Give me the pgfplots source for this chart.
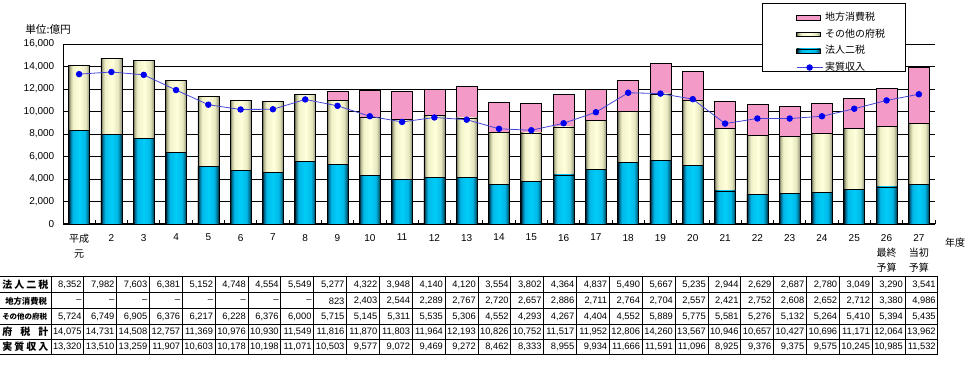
\documentclass[border=0pt]{standalone}
\usepackage{pgfplots}
\pgfplotsset{compat=1.18}
\usepackage{pgfplotstable}
\usepackage{fontspec}
\setmainfont{Liberation Sans}
\newfontfamily\jp{Noto Sans CJK JP}
\definecolor{cyA}{HTML}{000A14}
\definecolor{cyB}{HTML}{006A90}
\definecolor{cyC}{HTML}{00B8E8}
\definecolor{cyD}{HTML}{00CCF8}
\definecolor{cyE}{HTML}{007898}
\definecolor{cyF}{HTML}{002C40}
\definecolor{crA}{HTML}{66664C}
\definecolor{crB}{HTML}{BEBE9A}
\definecolor{crC}{HTML}{F2F2CA}
\definecolor{crD}{HTML}{FFFFDC}
\definecolor{crE}{HTML}{E6E6BE}
\definecolor{crF}{HTML}{909078}
\definecolor{pinkbar}{HTML}{F49AC9}
\definecolor{lineblue}{HTML}{4646D6}
\definecolor{markblue}{HTML}{0000F0}
\pgfdeclarehorizontalshading{cyanbar}{100bp}{color(0bp)=(cyA); color(25bp)=(cyA); color(29bp)=(cyB); color(35bp)=(cyC); color(50bp)=(cyD); color(64bp)=(cyC); color(70bp)=(cyE); color(75bp)=(cyF); color(100bp)=(cyF)}
\pgfdeclarehorizontalshading{creambar}{100bp}{color(0bp)=(crA); color(25bp)=(crA); color(29bp)=(crB); color(35bp)=(crC); color(52bp)=(crD); color(66bp)=(crE); color(75bp)=(crF); color(100bp)=(crF)}

\pgfplotstableread{
x a b c r
0 8352 5724 0 13320
1 7982 6749 0 13510
2 7603 6905 0 13259
3 6381 6376 0 11907
4 5152 6217 0 10603
5 4748 6228 0 10178
6 4554 6376 0 10198
7 5549 6000 0 11071
8 5277 5715 823 10503
9 4322 5145 2403 9577
10 3948 5311 2544 9072
11 4140 5535 2289 9469
12 4120 5306 2767 9272
13 3554 4552 2720 8462
14 3802 4293 2657 8333
15 4364 4267 2886 8955
16 4837 4404 2711 9934
17 5490 4552 2764 11666
18 5667 5889 2704 11591
19 5235 5775 2557 11096
20 2944 5581 2421 8925
21 2629 5276 2752 9376
22 2687 5132 2608 9375
23 2780 5264 2652 9575
24 3049 5410 2712 10245
25 3290 5394 3380 10985
26 3541 5435 4986 11532
}\data

\pgfplotsset{
  cyanstyle/.style={draw=black, line width=0.5pt, shade, shading=cyanbar},
  creamstyle/.style={draw=black, line width=0.5pt, shade, shading=creambar},
  pinkstyle/.style={draw=black, line width=0.5pt, fill=pinkbar},
  legbar/.style={legend image code/.code={\draw[##1] (0pt,-1.6pt) rectangle (18pt,1.6pt);}},
  legline/.style={legend image code/.code={\draw[mark repeat=2,mark phase=2,##1] plot coordinates {(0pt,0pt) (9.75pt,0pt) (19.5pt,0pt)};}},
  basegeom/.style={at={(47.25pt,120pt)}, anchor=south west, scale only axis,
    width=654pt, height=135pt, xmin=-0.5, xmax=26.5, ymin=0, ymax=16000},
}

\begin{document}
\begin{tikzpicture}
\useasboundingbox (0,0) rectangle (726pt,288pt);
\begin{axis}[basegeom,
  ybar, bar width=15.75pt,
  axis x line*=bottom, axis y line*=left,
  axis line style={black, line width=0.75pt},
  ytick={0,2000,...,16000}, scaled y ticks=false,
  ymajorgrids, grid style={black, line width=0.6pt},
  /pgf/number format/assume math mode=true,
  /pgf/number format/1000 sep={,},
  yticklabel style={font=\fontsize{7.5}{9}\selectfont, xshift=-3pt},
  xtick align=inside,
  major tick length=0pt,
  minor tick length=3pt,
  tick style={black, line width=0.6pt},
  xtick={0,...,26},
  minor xtick={-0.5,0.5,...,26.5},
  xticklabels={{\jp 平成\\\jp 元},2,3,4,5,6,7,8,9,10,11,12,13,14,15,16,17,18,19,20,21,22,23,24,25,{26\\\jp 最終\\\jp 予算},{27\\\jp 当初\\\jp 予算}},
  xticklabel style={font=\fontsize{7.5}{11.25}\selectfont, align=center, anchor=north, yshift=-4pt},
]
\pgfplotsinvokeforeach{0,...,26}{
  \addplot[pinkstyle, bar shift=0pt, restrict x to domain=#1:#1] table[x=x, y expr=\thisrow{a}+\thisrow{b}+\thisrow{c}]\data;
  \addplot[creamstyle, bar shift=0pt, restrict x to domain=#1:#1] table[x=x, y expr=\thisrow{a}+\thisrow{b}]\data;
  \addplot[cyanstyle, bar shift=0pt, restrict x to domain=#1:#1] table[x=x, y=a]\data;
}
\end{axis}
% legend box
\draw[black, line width=0.75pt, fill=white] (571.5pt,285pt) rectangle (678.75pt,234pt);
\begin{axis}[basegeom, hide axis,
  legend style={at={(0.836,1.189)}, anchor=north west, draw=none, fill=none,
    font=\fontsize{7.5}{9}\selectfont\jp,
    nodes={inner sep=0pt, anchor=west, text height=6pt, text depth=1.5pt},
    row sep=4.9pt,
    /tikz/every odd column/.append style={column sep=1.5pt}},
  legend cell align=left,
]
\addlegendimage{legbar, pinkstyle}
\addlegendentry{地方消費税}
\addlegendimage{legbar, creamstyle}
\addlegendentry{その他の府税}
\addlegendimage{legbar, cyanstyle}
\addlegendentry{法人二税}
\addplot[legline, color=lineblue, line width=0.6pt, mark=*, mark size=2.1pt, mark options={fill=markblue, draw=markblue}]
  table[x=x,y=r]\data;
\addlegendentry{実質収入}
\end{axis}
% texts
\node[anchor=west, inner sep=0pt, font=\fontsize{8}{9}\selectfont\jp] at (18.75pt,266.25pt) {単位:億円};
\node[inner sep=0pt, font=\fontsize{7.5}{9}\selectfont\jp] at (716.25pt,105.75pt) {年度};
% table grid
\begin{scope}[line width=0.75pt]
\foreach \yy in {277,293,309,325,340,355} {\draw (0pt,{(384-\yy)*0.75pt}) -- (703.5pt,{(384-\yy)*0.75pt});}
\foreach \k in {0,...,27} {\draw ({(51+\k*32.85)*0.75pt},{(384-277)*0.75pt}) -- ({(51+\k*32.85)*0.75pt},{(384-355)*0.75pt});}
\end{scope}
% row labels
\begin{scope}[every node/.style={anchor=west, inner sep=0pt}]
\node[font=\fontsize{7.5}{9}\selectfont\jp\bfseries] at (1.5pt,{(384-285)*0.75pt}) {\makebox[34.5pt]{法\hfill 人\hfill 二\hfill 税}};
\node[font=\fontsize{6.25}{8}\selectfont\jp\bfseries] at (3.75pt,{(384-301)*0.75pt}) {地方消費税};
\node[font=\fontsize{5.6}{7}\selectfont\jp\bfseries] at (1.5pt,{(384-317)*0.75pt}) {その他の府税};
\node[font=\fontsize{7.5}{9}\selectfont\jp\bfseries] at (1.5pt,{(384-332)*0.75pt}) {\makebox[34.5pt]{府\hfill 税\hfill 計}};
\node[font=\fontsize{7.5}{9}\selectfont\jp\bfseries] at (1.5pt,{(384-347)*0.75pt}) {\makebox[34.5pt]{実\hfill 質\hfill 収\hfill 入}};
\end{scope}
% table values
\begin{scope}[every node/.style={anchor=east, inner sep=0pt, font=\fontsize{7}{8}\selectfont}]
\foreach \v [count=\k] in {{8,352},{7,982},{7,603},{6,381},{5,152},{4,748},{4,554},{5,549},{5,277},{4,322},{3,948},{4,140},{4,120},{3,554},{3,802},{4,364},{4,837},{5,490},{5,667},{5,235},{2,944},{2,629},{2,687},{2,780},{3,049},{3,290},{3,541}}
  {\node at ({(49+\k*32.85)*0.75pt},{(384-285)*0.75pt}) {\v};}
\foreach \v [count=\k] in {{–\hspace{2.5pt}},{–\hspace{2.5pt}},{–\hspace{2.5pt}},{–\hspace{2.5pt}},{–\hspace{2.5pt}},{–\hspace{2.5pt}},{–\hspace{2.5pt}},{–\hspace{2.5pt}},823,{2,403},{2,544},{2,289},{2,767},{2,720},{2,657},{2,886},{2,711},{2,764},{2,704},{2,557},{2,421},{2,752},{2,608},{2,652},{2,712},{3,380},{4,986}}
  {\node at ({(49+\k*32.85)*0.75pt},{(384-301)*0.75pt}) {\v};}
\foreach \v [count=\k] in {{5,724},{6,749},{6,905},{6,376},{6,217},{6,228},{6,376},{6,000},{5,715},{5,145},{5,311},{5,535},{5,306},{4,552},{4,293},{4,267},{4,404},{4,552},{5,889},{5,775},{5,581},{5,276},{5,132},{5,264},{5,410},{5,394},{5,435}}
  {\node at ({(49+\k*32.85)*0.75pt},{(384-317)*0.75pt}) {\v};}
\foreach \v [count=\k] in {{14,075},{14,731},{14,508},{12,757},{11,369},{10,976},{10,930},{11,549},{11,816},{11,870},{11,803},{11,964},{12,193},{10,826},{10,752},{11,517},{11,952},{12,806},{14,260},{13,567},{10,946},{10,657},{10,427},{10,696},{11,171},{12,064},{13,962}}
  {\node at ({(49+\k*32.85)*0.75pt},{(384-332)*0.75pt}) {\v};}
\foreach \v [count=\k] in {{13,320},{13,510},{13,259},{11,907},{10,603},{10,178},{10,198},{11,071},{10,503},{9,577},{9,072},{9,469},{9,272},{8,462},{8,333},{8,955},{9,934},{11,666},{11,591},{11,096},{8,925},{9,376},{9,375},{9,575},{10,245},{10,985},{11,532}}
  {\node at ({(49+\k*32.85)*0.75pt},{(384-347)*0.75pt}) {\v};}
\end{scope}
\end{tikzpicture}
\end{document}
